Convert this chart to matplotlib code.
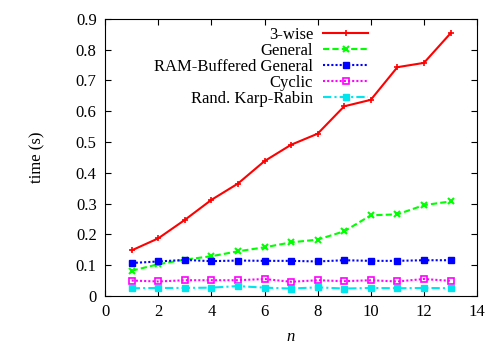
import matplotlib
matplotlib.use("Agg")
import matplotlib.pyplot as plt

plt.rcParams['font.family'] = ['Liberation Serif', 'DejaVu Serif']
plt.rcParams['mathtext.fontset'] = 'custom'
plt.rcParams['mathtext.it'] = 'Liberation Serif:italic'

n = [1, 2, 3, 4, 5, 6, 7, 8, 9, 10, 11, 12, 13]
three_wise = [0.148, 0.187, 0.247, 0.312, 0.365, 0.438, 0.491, 0.527, 0.616, 0.637, 0.743, 0.757, 0.853]
general = [0.082, 0.103, 0.118, 0.129, 0.145, 0.158, 0.174, 0.183, 0.210, 0.262, 0.265, 0.295, 0.307]
ram_general = [0.107, 0.112, 0.117, 0.113, 0.115, 0.114, 0.114, 0.112, 0.116, 0.114, 0.114, 0.116, 0.116]
cyclic = [0.050, 0.047, 0.051, 0.051, 0.051, 0.055, 0.046, 0.051, 0.048, 0.051, 0.047, 0.055, 0.049]
karp_rabin = [0.025, 0.026, 0.026, 0.027, 0.032, 0.027, 0.024, 0.028, 0.024, 0.026, 0.025, 0.026, 0.025]

fig = plt.figure(figsize=(4.98, 3.49), dpi=100)
ax = fig.add_axes([0.211, 0.152, 0.747, 0.794])

ax.plot(n, three_wise, color='#ff0000', lw=1.5, ls='-', marker='+', ms=5, mew=1.2, label='3-wise')
ax.plot(n, general, color='#00ff00', lw=1.5, ls=(0, (3, 1.5)), marker='x', ms=4, mew=1.5, label='General')
ax.plot(n, ram_general, color='#0000ff', lw=1.5, ls=(0, (1, 1)), marker='s', ms=4, mew=1, label='RAM-Buffered General')
ax.plot(n, cyclic, color='#ff00ff', lw=1.5, ls=(0, (1, 1)), marker='s', ms=5, mfc='none', mew=1.2, label='Cyclic')
ax.plot(n, karp_rabin, color='#00e5ee', lw=1.5, ls=(0, (4, 1.5, 1, 1.5)), marker='s', ms=4, mew=1, label='Rand. Karp-Rabin')

ax.set_xlim(0, 14)
ax.set_ylim(0, 0.9)
ax.set_xticks(range(0, 15, 2))
ax.set_yticks([0, 0.1, 0.2, 0.3, 0.4, 0.5, 0.6, 0.7, 0.8, 0.9])
ax.set_yticklabels(['0', '0.1', '0.2', '0.3', '0.4', '0.5', '0.6', '0.7', '0.8', '0.9'])
ax.tick_params(direction='in', top=True, right=True, labelsize=12, length=4, pad=6)
ax.set_xlabel('$n$', fontsize=12, labelpad=6)
ax.set_ylabel('time (s)', fontsize=12, labelpad=22)

leg = ax.legend(loc='upper right', bbox_to_anchor=(0.707, 0.971), markerfirst=False, frameon=False,
                fontsize=12, handlelength=2.7, labelspacing=0.0, handletextpad=0.6,
                borderaxespad=0, borderpad=0)

fig.savefig('out.png', dpi=100)
